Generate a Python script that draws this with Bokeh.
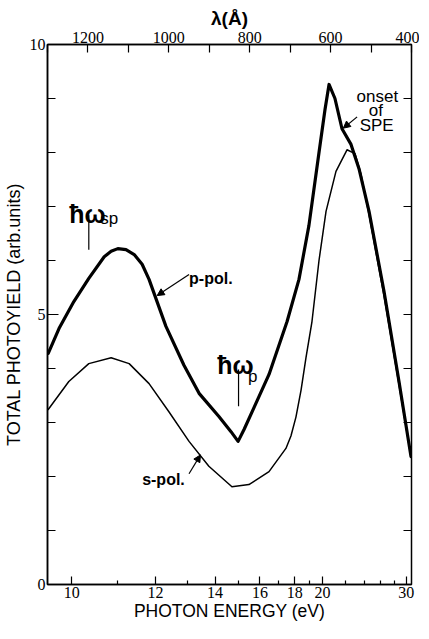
import numpy as np
from bokeh.plotting import figure
from bokeh.models import (Range1d, LinearAxis, FixedTicker, CustomJSTickFormatter,
                          Arrow, NormalHead, Label, ColumnDataSource)
from bokeh.embed import file_html
from bokeh.resources import INLINE

HC = 12398.0  # eV * Angstrom

# p-polarised total photoyield (thick curve)
p_energy = [9.55, 9.75, 10.04, 10.35, 10.69, 10.85, 11.01, 11.21, 11.42, 11.63, 11.82,
            12.31, 12.88, 13.40, 14.15, 14.65, 14.96, 15.23, 15.71, 16.48, 17.52,
            18.28, 18.97, 19.72, 20.20, 20.53, 21.04, 21.68, 22.56, 23.40, 24.55,
            26.49, 28.77, 30.9]
p_yield = [4.28, 4.74, 5.24, 5.67, 6.07, 6.17, 6.22, 6.20, 6.11, 5.93, 5.65,
           4.78, 4.06, 3.54, 3.11, 2.83, 2.65, 2.87, 3.28, 3.89, 4.87,
           5.65, 6.65, 8.00, 8.80, 9.26, 9.00, 8.44, 8.15, 7.70, 6.91,
           5.43, 3.76, 2.37]

# s-polarised total photoyield (thin curve)
s_energy = [9.55, 9.94, 10.35, 10.85, 11.29, 11.82, 12.40, 13.05, 13.76, 14.69,
            15.46, 16.48, 17.45, 17.76, 18.08, 18.42, 18.76, 19.19, 19.72, 20.28,
            21.13, 22.16, 22.97, 23.62, 24.55, 26.49, 28.77, 30.9]
s_yield = [3.24, 3.76, 4.09, 4.20, 4.09, 3.72, 3.20, 2.65, 2.19, 1.81,
           1.85, 2.09, 2.52, 2.75, 3.10, 3.60, 4.20, 4.87, 6.00, 6.91,
           7.65, 8.05, 7.98, 7.60, 6.85, 5.35, 3.70, 2.37]

energy_major = [10, 12, 14, 16, 18, 20, 30]
energy_minor = [11, 13, 15, 17, 19, 22, 24, 26, 28]
lambda_major = [1200, 1000, 800, 600, 400]
lambda_minor = [1300, 1100, 900, 700, 500]
yield_major = [0, 5, 10]
yield_minor = list(range(0, 11))

LAM_MIN, LAM_MAX = 400, 1300


def lam(e):
    return HC / e


p = figure(frame_width=364, frame_height=540,
           x_range=Range1d(LAM_MAX, LAM_MIN), y_range=Range1d(0, 10),
           output_backend="svg", toolbar_location=None,
           x_axis_type=None, y_axis_type=None,
           min_border_left=41, min_border_right=8, min_border_top=44, min_border_bottom=30)
p.outline_line_color = "black"
p.outline_line_width = 1.5
p.background_fill_color = "white"

TICK_FONT = "Liberation Sans Narrow"
LABEL_FONT = "Liberation Sans"


def style(ax, tin, minin, size="16px"):
    ax.axis_line_color = "black"
    ax.axis_line_width = 1.5
    ax.major_tick_line_color = "black"
    ax.minor_tick_line_color = "black"
    ax.major_tick_line_width = 1.2
    ax.minor_tick_line_width = 1.2
    ax.major_tick_in = tin
    ax.major_tick_out = 0
    ax.minor_tick_in = minin
    ax.minor_tick_out = 0
    ax.major_label_text_font = TICK_FONT
    ax.major_label_text_font_size = size
    ax.major_label_text_color = "black"
    ax.axis_label_text_font = LABEL_FONT
    ax.axis_label_text_font_size = "17px"
    ax.axis_label_text_font_style = "normal"
    ax.axis_label_text_color = "black"
    ax.major_label_standoff = 2
    ax.axis_label_standoff = 0


bottom = LinearAxis(ticker=FixedTicker(ticks=[lam(e) for e in energy_major],
                                       minor_ticks=[lam(e) for e in energy_minor]),
                    formatter=CustomJSTickFormatter(args=dict(hc=HC),
                                                    code="return Math.round(hc / tick).toString();"),
                    axis_label="PHOTON ENERGY (eV)")
style(bottom, 8, 4)
bottom.axis_label_text_font_size = "17.5px"
p.add_layout(bottom, "below")

top = LinearAxis(ticker=FixedTicker(ticks=lambda_major, minor_ticks=lambda_minor),
                 axis_label="λ(Å)")
style(top, 8, 8)
top.axis_label_text_font_size = "19px"
top.axis_label_text_font_style = "bold"
p.add_layout(top, "above")

left = LinearAxis(ticker=FixedTicker(ticks=yield_major, minor_ticks=yield_minor),
                  axis_label="TOTAL PHOTOYIELD (arb.units)")
style(left, 11, 8)
left.axis_label_text_font_size = "18px"
left.axis_label_standoff = 3
p.add_layout(left, "left")

# right-hand frame ticks (inward), one per unit of yield
tick_len = 8 * (LAM_MAX - LAM_MIN) / 364.0
p.segment(x0=[LAM_MIN] * len(yield_minor), y0=yield_minor,
          x1=[LAM_MIN + tick_len] * len(yield_minor), y1=yield_minor,
          line_color="black", line_width=1.2)

# curves
p.line([lam(e) for e in p_energy], p_yield, line_width=3.2, line_color="black",
       line_join="round", line_cap="round")
p.line([lam(e) for e in s_energy], s_yield, line_width=1.5, line_color="black",
       line_join="round", line_cap="round")

# marker lines for hbar omega_sp and hbar omega_p
seg = ColumnDataSource(dict(x0=[lam(10.35), lam(14.98)], y0=[6.20, 3.30],
                            x1=[lam(10.35), lam(14.98)], y1=[6.84, 3.98]))
p.segment(x0="x0", y0="y0", x1="x1", y1="y1", source=seg, line_color="black", line_width=1.2)


def lbl(x, y, text, size, style="normal", font=LABEL_FONT, align="left", baseline="alphabetic"):
    p.add_layout(Label(x=x, y=y, text=text, text_font=font, text_font_size=size,
                       text_font_style=style, text_color="black", text_align=align,
                       text_baseline=baseline))


lbl(lam(9.95), 6.87, "ħω", "25px", "bold")
lbl(lam(10.60), 6.78, "sp", "17px")
lbl(lam(14.08), 4.07, "ħω", "25px", "bold")
lbl(lam(15.42), 3.86, "p", "17px")

lbl(lam(13.05), 5.67, "p-pol.", "16px", "bold", baseline="middle")
lbl(lam(11.63), 1.95, "s-pol.", "16px", "bold", baseline="middle")

lbl(lam(25.6), 9.03, "onset", "17px", align="center")
lbl(lam(25.4), 8.77, "of", "17px", align="center")
lbl(lam(25.5), 8.50, "SPE", "17px", align="center")

head = dict(size=7, fill_color="black", line_color="black")
p.add_layout(Arrow(end=NormalHead(**head), x_start=lam(13.05), y_start=5.74,
                   x_end=lam(12.05), y_end=5.35, line_width=1.2, line_color="black"))
p.add_layout(Arrow(end=NormalHead(**head), x_start=lam(13.05), y_start=2.05,
                   x_end=lam(13.45), y_end=2.40, line_width=1.2, line_color="black"))
p.add_layout(Arrow(end=NormalHead(**head), x_start=lam(23.2), y_start=8.66,
                   x_end=lam(21.8), y_end=8.45, line_width=1.2, line_color="black"))

open("out.html", "w").write(file_html(p, INLINE))
